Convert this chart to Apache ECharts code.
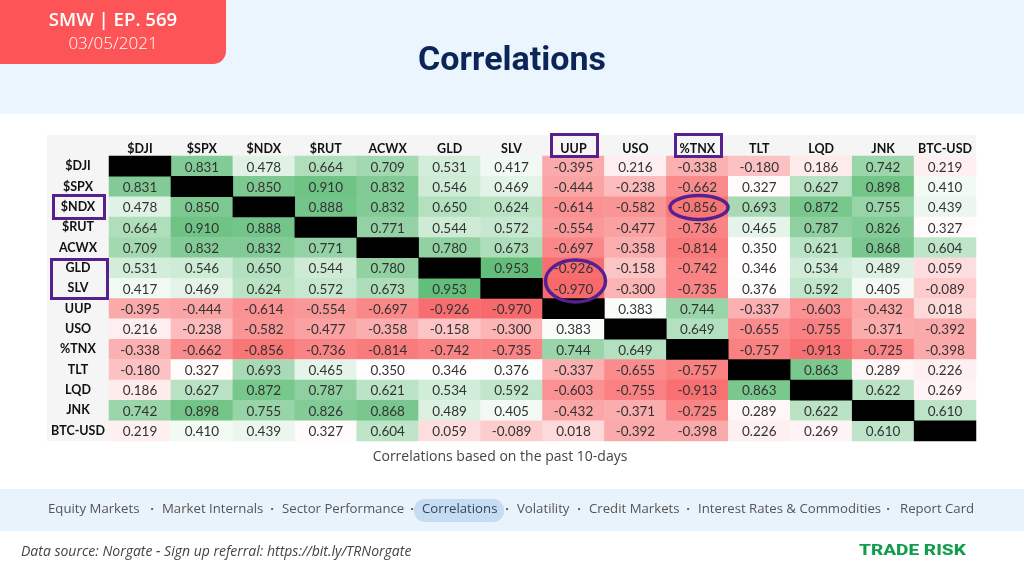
<!DOCTYPE html>
<html>
<head>
<meta charset="utf-8">
<script src="https://cdn.jsdelivr.net/npm/echarts@6/dist/echarts.min.js"></script>
<style>
  html, body { margin: 0; padding: 0; background: #fff; }
  #chart { width: 1024px; height: 576px; }
</style>
</head>
<body>
<div id="chart"></div>
<script>
const tickers = ["$DJI", "$SPX", "$NDX", "$RUT", "ACWX", "GLD", "SLV", "UUP", "USO", "%TNX", "TLT", "LQD", "JNK", "BTC-USD"];

// null = the blacked out diagonal
const rowDJI = [null, 0.831, 0.478, 0.664, 0.709, 0.531, 0.417, -0.395, 0.216, -0.338, -0.18, 0.186, 0.742, 0.219];
const rowSPX = [0.831, null, 0.85, 0.91, 0.832, 0.546, 0.469, -0.444, -0.238, -0.662, 0.327, 0.627, 0.898, 0.41];
const rowNDX = [0.478, 0.85, null, 0.888, 0.832, 0.65, 0.624, -0.614, -0.582, -0.856, 0.693, 0.872, 0.755, 0.439];
const rowRUT = [0.664, 0.91, 0.888, null, 0.771, 0.544, 0.572, -0.554, -0.477, -0.736, 0.465, 0.787, 0.826, 0.327];
const rowACWX = [0.709, 0.832, 0.832, 0.771, null, 0.78, 0.673, -0.697, -0.358, -0.814, 0.35, 0.621, 0.868, 0.604];
const rowGLD = [0.531, 0.546, 0.65, 0.544, 0.78, null, 0.953, -0.926, -0.158, -0.742, 0.346, 0.534, 0.489, 0.059];
const rowSLV = [0.417, 0.469, 0.624, 0.572, 0.673, 0.953, null, -0.97, -0.3, -0.735, 0.376, 0.592, 0.405, -0.089];
const rowUUP = [-0.395, -0.444, -0.614, -0.554, -0.697, -0.926, -0.97, null, 0.383, 0.744, -0.337, -0.603, -0.432, 0.018];
const rowUSO = [0.216, -0.238, -0.582, -0.477, -0.358, -0.158, -0.3, 0.383, null, 0.649, -0.655, -0.755, -0.371, -0.392];
const rowTNX = [-0.338, -0.662, -0.856, -0.736, -0.814, -0.742, -0.735, 0.744, 0.649, null, -0.757, -0.913, -0.725, -0.398];
const rowTLT = [-0.18, 0.327, 0.693, 0.465, 0.35, 0.346, 0.376, -0.337, -0.655, -0.757, null, 0.863, 0.289, 0.226];
const rowLQD = [0.186, 0.627, 0.872, 0.787, 0.621, 0.534, 0.592, -0.603, -0.755, -0.913, 0.863, null, 0.622, 0.269];
const rowJNK = [0.742, 0.898, 0.755, 0.826, 0.868, 0.489, 0.405, -0.432, -0.371, -0.725, 0.289, 0.622, null, 0.61];
const rowBTC = [0.219, 0.41, 0.439, 0.327, 0.604, 0.059, -0.089, 0.018, -0.392, -0.398, 0.226, 0.269, 0.61, null];
const rows = [rowDJI, rowSPX, rowNDX, rowRUT, rowACWX, rowGLD, rowSLV, rowUUP, rowUSO, rowTNX, rowTLT, rowLQD, rowJNK, rowBTC];

const navItems = ["Equity Markets", "Market Internals", "Sector Performance", "Correlations", "Volatility", "Credit Markets", "Interest Rates & Commodities", "Report Card"];
const navX = [48, 162, 282, 422, 517, 589, 698, 900];
const navDotX = [152, 272, 412, 507, 579, 688, 888];

const cells = [];
const diagonal = [];
rows.forEach((row, y) => row.forEach((v, x) => {
  if (v === null) diagonal.push([x, y, 0]);
  else cells.push([x, y, v]);
}));

// excel style 3 colour scale, white sits at about 0.36 so it needs uneven stops
function ramp(a, b, n) {
  const out = [];
  for (let i = 0; i < n; i++) {
    const t = i / n;
    out.push("rgb(" + a.map((c, k) => Math.round(c + (b[k] - c) * t)).join(",") + ")");
  }
  return out;
}
const RED = [248, 105, 107], WHITE = [255, 255, 255], GREEN = [99, 190, 123];
const scaleColors = ramp(RED, WHITE, 9).concat(ramp(WHITE, GREEN, 4), "rgb(99,190,123)");

const PURPLE = "#56218f";
const box = (x, y, width, height) => ({
  type: "rect", shape: { x, y, width, height }, z: 50,
  style: { fill: "none", stroke: PURPLE, lineWidth: 3 }
});
const ring = (cx, cy, rx, ry) => ({
  type: "ellipse", shape: { cx, cy, rx, ry }, z: 50,
  style: { fill: "none", stroke: PURPLE, lineWidth: 3.5 }
});
const bg = (x, y, width, height, fill, r) => ({
  type: "rect", shape: { x, y, width, height, r: r || 0 }, z: -10, style: { fill }
});
const label = (x, y, text, font, fill, align, scaleX) => ({
  type: "text", x, y, z: 60, scaleX: scaleX || 1,
  style: { text, font, fill, align: align || "left", verticalAlign: "middle" }
});

const navFont = '400 13.2px "Open Sans"';
const graphics = [
  bg(0, 0, 1024, 114, "#ebf5fd"),
  bg(0, -20, 226, 84, "#fd5458", [0, 0, 13, 0]),
  bg(47, 135, 929, 306, "#f5f5f5"),
  bg(0, 489, 1024, 42, "#e8f3fc"),
  bg(414, 499, 90, 23, "#c6dcf3", 11),
  label(113, 21, "SMW | EP. 569", '600 18.6px "Open Sans"', "#fff", "center"),
  label(113, 44, "03/05/2021", '300 17px "Open Sans"', "#fff", "center"),
  label(512, 61, "Correlations", '700 34px Roboto', "#0b2559", "center"),
  label(500, 457, "Correlations based on the past 10-days", '400 14px "Open Sans"', "#444", "center"),
  label(21, 552, "Data source: Norgate - Sign up referral: https://bit.ly/TRNorgate", 'italic 400 14px "Open Sans"', "#444"),
  label(859, 551, "TRADE RISK", '800 14px Roboto', "#0f9d4c", "left", 1.36),
  box(53.5, 195.5, 51, 23),
  box(51.5, 259.5, 56, 39),
  box(551.5, 134.5, 46, 22),
  box(675.5, 134.5, 46, 22),
  ring(699, 207.5, 29, 12),
  ring(575.5, 281, 30, 21)
];
navItems.forEach((t, i) => graphics.push(label(navX[i], 509, t, navFont, i === 3 ? "#34465f" : "#555")));
navDotX.forEach((x) => graphics.push(label(x, 509, "·", '700 13px "Open Sans"', "#555", "center")));

const chart = echarts.init(document.getElementById("chart"));
chart.setOption({
  animation: false,
  backgroundColor: "#fff",
  grid: { left: 109, top: 156, width: 867, height: 285 },
  xAxis: {
    type: "category",
    position: "top",
    data: tickers,
    axisLine: { show: false },
    axisTick: { show: false },
    splitArea: { show: false },
    axisLabel: { interval: 0, margin: 1, fontFamily: "Lato", fontWeight: 700, fontSize: 12.5, color: "#111" }
  },
  yAxis: {
    type: "category",
    inverse: true,
    data: tickers,
    axisLine: { show: false },
    axisTick: { show: false },
    splitArea: { show: false },
    axisLabel: { interval: 0, margin: 31, align: "center", padding: [4, 0, 0, 0], fontFamily: "Lato", fontWeight: 700, fontSize: 12.5, color: "#111" }
  },
  visualMap: {
    show: false,
    seriesIndex: 0,
    dimension: 2,
    min: -0.97,
    max: 0.953,
    inRange: { color: scaleColors }
  },
  series: [
    {
      type: "heatmap",
      data: cells,
      label: {
        show: true,
        offset: [0, 1],
        fontFamily: "Lato",
        fontSize: 13.5,
        color: "#333",
        formatter: (p) => p.value[2].toFixed(3)
      }
    },
    {
      type: "heatmap",
      data: diagonal,
      itemStyle: { color: "#000" },
      label: { show: false }
    }
  ],
  graphic: { elements: graphics }
});
</script>
</body>
</html>
